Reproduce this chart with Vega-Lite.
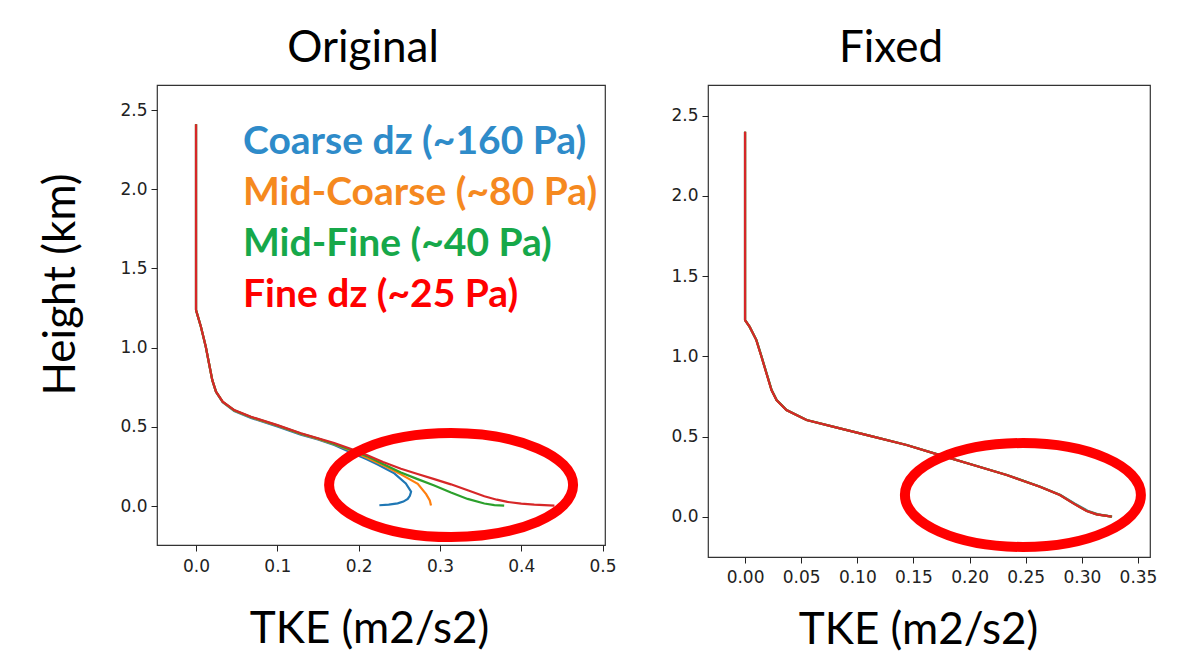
{
  "$schema": "https://vega.github.io/schema/vega-lite/v6.json",
  "background": "white",
  "padding": {"left": 38, "top": 26, "right": 5, "bottom": 5},
  "spacing": 53,
  "datasets": {
    "orig": [
      {"s":"Coarse","i":0,"x":0,"y":2.41},{"s":"Coarse","i":1,"x":0,"y":1.237},{"s":"Coarse","i":2,"x":0.006,"y":1.132},{"s":"Coarse","i":3,"x":0.012,"y":1.006},{"s":"Coarse","i":4,"x":0.016,"y":0.9},{"s":"Coarse","i":5,"x":0.02,"y":0.795},{"s":"Coarse","i":6,"x":0.0246,"y":0.72},{"s":"Coarse","i":7,"x":0.0328,"y":0.655},{"s":"Coarse","i":8,"x":0.047,"y":0.6},{"s":"Coarse","i":9,"x":0.0676,"y":0.556},{"s":"Coarse","i":10,"x":0.1,"y":0.503},{"s":"Coarse","i":11,"x":0.129,"y":0.451},{"s":"Coarse","i":12,"x":0.15,"y":0.42},{"s":"Coarse","i":13,"x":0.17,"y":0.385},{"s":"Coarse","i":14,"x":0.19,"y":0.34},{"s":"Coarse","i":15,"x":0.21,"y":0.295},{"s":"Coarse","i":16,"x":0.2234,"y":0.262},{"s":"Coarse","i":17,"x":0.2439,"y":0.206},{"s":"Coarse","i":18,"x":0.258,"y":0.143},{"s":"Coarse","i":19,"x":0.2645,"y":0.09},{"s":"Coarse","i":20,"x":0.263,"y":0.065},{"s":"Coarse","i":21,"x":0.2604,"y":0.045},{"s":"Coarse","i":22,"x":0.255,"y":0.028},{"s":"Coarse","i":23,"x":0.248,"y":0.017},{"s":"Coarse","i":24,"x":0.237,"y":0.009},{"s":"Coarse","i":25,"x":0.2255,"y":0.005},
      {"s":"MidCoarse","i":0,"x":0,"y":2.41},{"s":"MidCoarse","i":1,"x":0,"y":1.237},{"s":"MidCoarse","i":2,"x":0.006,"y":1.132},{"s":"MidCoarse","i":3,"x":0.012,"y":1.006},{"s":"MidCoarse","i":4,"x":0.016,"y":0.9},{"s":"MidCoarse","i":5,"x":0.02,"y":0.795},{"s":"MidCoarse","i":6,"x":0.0246,"y":0.721},{"s":"MidCoarse","i":7,"x":0.0328,"y":0.657},{"s":"MidCoarse","i":8,"x":0.047,"y":0.603},{"s":"MidCoarse","i":9,"x":0.0676,"y":0.56},{"s":"MidCoarse","i":10,"x":0.1,"y":0.507},{"s":"MidCoarse","i":11,"x":0.129,"y":0.455},{"s":"MidCoarse","i":12,"x":0.15,"y":0.424},{"s":"MidCoarse","i":13,"x":0.17,"y":0.39},{"s":"MidCoarse","i":14,"x":0.19,"y":0.35},{"s":"MidCoarse","i":15,"x":0.21,"y":0.305},{"s":"MidCoarse","i":16,"x":0.23,"y":0.258},{"s":"MidCoarse","i":17,"x":0.252,"y":0.2},{"s":"MidCoarse","i":18,"x":0.2727,"y":0.14},{"s":"MidCoarse","i":19,"x":0.283,"y":0.075},{"s":"MidCoarse","i":20,"x":0.2875,"y":0.035},{"s":"MidCoarse","i":21,"x":0.289,"y":0.003},
      {"s":"MidFine","i":0,"x":0,"y":2.41},{"s":"MidFine","i":1,"x":0,"y":1.237},{"s":"MidFine","i":2,"x":0.006,"y":1.132},{"s":"MidFine","i":3,"x":0.012,"y":1.006},{"s":"MidFine","i":4,"x":0.016,"y":0.9},{"s":"MidFine","i":5,"x":0.02,"y":0.795},{"s":"MidFine","i":6,"x":0.0246,"y":0.722},{"s":"MidFine","i":7,"x":0.0328,"y":0.658},{"s":"MidFine","i":8,"x":0.047,"y":0.605},{"s":"MidFine","i":9,"x":0.0676,"y":0.562},{"s":"MidFine","i":10,"x":0.1,"y":0.509},{"s":"MidFine","i":11,"x":0.129,"y":0.457},{"s":"MidFine","i":12,"x":0.15,"y":0.426},{"s":"MidFine","i":13,"x":0.17,"y":0.392},{"s":"MidFine","i":14,"x":0.19,"y":0.355},{"s":"MidFine","i":15,"x":0.21,"y":0.315},{"s":"MidFine","i":16,"x":0.23,"y":0.265},{"s":"MidFine","i":17,"x":0.252,"y":0.212},{"s":"MidFine","i":18,"x":0.2725,"y":0.17},{"s":"MidFine","i":19,"x":0.293,"y":0.13},{"s":"MidFine","i":20,"x":0.3135,"y":0.085},{"s":"MidFine","i":21,"x":0.334,"y":0.045},{"s":"MidFine","i":22,"x":0.3546,"y":0.016},{"s":"MidFine","i":23,"x":0.367,"y":0.006},{"s":"MidFine","i":24,"x":0.379,"y":0.002},
      {"s":"Fine","i":0,"x":0,"y":2.41},{"s":"Fine","i":1,"x":0,"y":1.237},{"s":"Fine","i":2,"x":0.006,"y":1.132},{"s":"Fine","i":3,"x":0.012,"y":1.006},{"s":"Fine","i":4,"x":0.016,"y":0.9},{"s":"Fine","i":5,"x":0.02,"y":0.795},{"s":"Fine","i":6,"x":0.0246,"y":0.722},{"s":"Fine","i":7,"x":0.0328,"y":0.659},{"s":"Fine","i":8,"x":0.047,"y":0.606},{"s":"Fine","i":9,"x":0.0676,"y":0.564},{"s":"Fine","i":10,"x":0.1,"y":0.511},{"s":"Fine","i":11,"x":0.129,"y":0.459},{"s":"Fine","i":12,"x":0.15,"y":0.428},{"s":"Fine","i":13,"x":0.17,"y":0.398},{"s":"Fine","i":14,"x":0.19,"y":0.362},{"s":"Fine","i":15,"x":0.21,"y":0.322},{"s":"Fine","i":16,"x":0.23,"y":0.278},{"s":"Fine","i":17,"x":0.252,"y":0.235},{"s":"Fine","i":18,"x":0.2725,"y":0.202},{"s":"Fine","i":19,"x":0.293,"y":0.17},{"s":"Fine","i":20,"x":0.3135,"y":0.137},{"s":"Fine","i":21,"x":0.335,"y":0.098},{"s":"Fine","i":22,"x":0.3546,"y":0.062},{"s":"Fine","i":23,"x":0.37,"y":0.04},{"s":"Fine","i":24,"x":0.383,"y":0.026},{"s":"Fine","i":25,"x":0.4,"y":0.015},{"s":"Fine","i":26,"x":0.416,"y":0.009},{"s":"Fine","i":27,"x":0.4408,"y":0.003}
    ],
    "fixed": [
      {"s":"Coarse","i":0,"x":0,"y":2.4},{"s":"Coarse","i":1,"x":0,"y":1.226},{"s":"Coarse","i":2,"x":0.004,"y":1.185},{"s":"Coarse","i":3,"x":0.0102,"y":1.101},{"s":"Coarse","i":4,"x":0.0148,"y":0.997},{"s":"Coarse","i":5,"x":0.0192,"y":0.894},{"s":"Coarse","i":6,"x":0.0237,"y":0.79},{"s":"Coarse","i":7,"x":0.0282,"y":0.727},{"s":"Coarse","i":8,"x":0.037,"y":0.665},{"s":"Coarse","i":9,"x":0.0549,"y":0.603},{"s":"Coarse","i":10,"x":0.0846,"y":0.551},{"s":"Coarse","i":11,"x":0.1142,"y":0.499},{"s":"Coarse","i":12,"x":0.144,"y":0.447},{"s":"Coarse","i":13,"x":0.1737,"y":0.384},{"s":"Coarse","i":14,"x":0.2034,"y":0.322},{"s":"Coarse","i":15,"x":0.2332,"y":0.26},{"s":"Coarse","i":16,"x":0.263,"y":0.187},{"s":"Coarse","i":17,"x":0.281,"y":0.135},{"s":"Coarse","i":18,"x":0.2935,"y":0.083},{"s":"Coarse","i":19,"x":0.3058,"y":0.035},{"s":"Coarse","i":20,"x":0.3145,"y":0.0145},{"s":"Coarse","i":21,"x":0.327,"y":0.0},
      {"s":"MidCoarse","i":0,"x":0,"y":2.4},{"s":"MidCoarse","i":1,"x":0,"y":1.226},{"s":"MidCoarse","i":2,"x":0.004,"y":1.185},{"s":"MidCoarse","i":3,"x":0.0101,"y":1.101},{"s":"MidCoarse","i":4,"x":0.0147,"y":0.997},{"s":"MidCoarse","i":5,"x":0.0191,"y":0.894},{"s":"MidCoarse","i":6,"x":0.0236,"y":0.79},{"s":"MidCoarse","i":7,"x":0.0281,"y":0.727},{"s":"MidCoarse","i":8,"x":0.0369,"y":0.665},{"s":"MidCoarse","i":9,"x":0.0548,"y":0.603},{"s":"MidCoarse","i":10,"x":0.0845,"y":0.551},{"s":"MidCoarse","i":11,"x":0.1141,"y":0.499},{"s":"MidCoarse","i":12,"x":0.1439,"y":0.447},{"s":"MidCoarse","i":13,"x":0.1736,"y":0.384},{"s":"MidCoarse","i":14,"x":0.2033,"y":0.322},{"s":"MidCoarse","i":15,"x":0.2331,"y":0.26},{"s":"MidCoarse","i":16,"x":0.2628,"y":0.187},{"s":"MidCoarse","i":17,"x":0.2806,"y":0.135},{"s":"MidCoarse","i":18,"x":0.2927,"y":0.083},{"s":"MidCoarse","i":19,"x":0.3048,"y":0.035},{"s":"MidCoarse","i":20,"x":0.3135,"y":0.0145},{"s":"MidCoarse","i":21,"x":0.3267,"y":0.0},
      {"s":"MidFine","i":0,"x":0,"y":2.4},{"s":"MidFine","i":1,"x":0,"y":1.226},{"s":"MidFine","i":2,"x":0.004,"y":1.185},{"s":"MidFine","i":3,"x":0.0101,"y":1.101},{"s":"MidFine","i":4,"x":0.0147,"y":0.997},{"s":"MidFine","i":5,"x":0.0191,"y":0.894},{"s":"MidFine","i":6,"x":0.0236,"y":0.79},{"s":"MidFine","i":7,"x":0.0281,"y":0.727},{"s":"MidFine","i":8,"x":0.0369,"y":0.665},{"s":"MidFine","i":9,"x":0.0548,"y":0.603},{"s":"MidFine","i":10,"x":0.0845,"y":0.551},{"s":"MidFine","i":11,"x":0.1141,"y":0.499},{"s":"MidFine","i":12,"x":0.1439,"y":0.447},{"s":"MidFine","i":13,"x":0.1736,"y":0.384},{"s":"MidFine","i":14,"x":0.2033,"y":0.322},{"s":"MidFine","i":15,"x":0.2331,"y":0.26},{"s":"MidFine","i":16,"x":0.2627,"y":0.187},{"s":"MidFine","i":17,"x":0.2805,"y":0.135},{"s":"MidFine","i":18,"x":0.2925,"y":0.083},{"s":"MidFine","i":19,"x":0.3045,"y":0.035},{"s":"MidFine","i":20,"x":0.3132,"y":0.0145},{"s":"MidFine","i":21,"x":0.3266,"y":0.0},
      {"s":"Fine","i":0,"x":0,"y":2.4},{"s":"Fine","i":1,"x":0,"y":1.226},{"s":"Fine","i":2,"x":0.004,"y":1.185},{"s":"Fine","i":3,"x":0.01,"y":1.101},{"s":"Fine","i":4,"x":0.0146,"y":0.997},{"s":"Fine","i":5,"x":0.019,"y":0.894},{"s":"Fine","i":6,"x":0.0235,"y":0.79},{"s":"Fine","i":7,"x":0.028,"y":0.727},{"s":"Fine","i":8,"x":0.0368,"y":0.665},{"s":"Fine","i":9,"x":0.0547,"y":0.603},{"s":"Fine","i":10,"x":0.0844,"y":0.551},{"s":"Fine","i":11,"x":0.114,"y":0.499},{"s":"Fine","i":12,"x":0.1438,"y":0.447},{"s":"Fine","i":13,"x":0.1735,"y":0.384},{"s":"Fine","i":14,"x":0.2032,"y":0.322},{"s":"Fine","i":15,"x":0.233,"y":0.26},{"s":"Fine","i":16,"x":0.2626,"y":0.187},{"s":"Fine","i":17,"x":0.2804,"y":0.135},{"s":"Fine","i":18,"x":0.2923,"y":0.083},{"s":"Fine","i":19,"x":0.3042,"y":0.035},{"s":"Fine","i":20,"x":0.313,"y":0.0145},{"s":"Fine","i":21,"x":0.3265,"y":0.0}
    ],
    "legendText": [
      {"s":"Coarse","label":"Coarse dz (~160 Pa)","x":0.0578,"y":2.222},
      {"s":"MidCoarse","label":"Mid-Coarse (~80 Pa)","x":0.0578,"y":1.9},
      {"s":"MidFine","label":"Mid-Fine (~40 Pa)","x":0.0578,"y":1.578},
      {"s":"Fine","label":"Fine dz (~25 Pa)","x":0.0578,"y":1.256}
    ]
  },
  "hconcat": [
    {
      "width": 448,
      "height": 460,
      "title": {"text": "Original", "offset": 14, "dx": -18},
      "encoding": {
        "x": {"field": "x", "type": "quantitative",
          "scale": {"domain": [-0.048, 0.503], "nice": false, "zero": false},
          "axis": {"values": [0, 0.1, 0.2, 0.3, 0.4, 0.5], "format": ".1f", "labelPadding": 7, "title": "TKE (m2/s2)", "titleX": 212, "titleY": 97, "titleBaseline": "alphabetic", "titleAlign": "center"}},
        "y": {"field": "y", "type": "quantitative",
          "scale": {"domain": [-0.246, 2.658], "nice": false, "zero": false},
          "axis": {"values": [0, 0.5, 1, 1.5, 2, 2.5], "format": ".1f", "title": "Height (km)", "titleX": -83, "titleY": 199, "titleBaseline": "alphabetic", "titleAlign": "center", "titleAngle": -90}}
      },
      "layer": [
        {
          "data": {"name": "orig"},
          "mark": {"type": "line", "strokeWidth": 2.2},
          "encoding": {
            "color": {"field": "s", "type": "nominal", "scale": {"domain": ["Coarse", "MidCoarse", "MidFine", "Fine"], "range": ["#1f77b4", "#ff7f0e", "#2ca02c", "#d62728"]}, "legend": null},
            "order": {"field": "i", "type": "quantitative"}
          }
        },
        {
          "data": {"name": "legendText"},
          "mark": {"type": "text", "font": "Lato", "fontWeight": "bold", "fontSize": 39, "align": "left", "baseline": "alphabetic"},
          "encoding": {
            "text": {"field": "label"},
            "color": {"field": "s", "type": "nominal", "scale": {"domain": ["Coarse", "MidCoarse", "MidFine", "Fine"], "range": ["#2e8bc9", "#f5891f", "#16a84a", "#ff0000"]}, "legend": null}
          }
        },
        {
          "data": {"values": [{"x": 0.3137, "y": 0.1326}]},
          "mark": {"type": "point", "shape": "M -1 0 A 1 0.426 0 1 1 1 0 A 1 0.426 0 1 1 -1 0 Z", "size": 59536, "filled": false, "stroke": "#ff0000", "strokeWidth": 10, "opacity": 1}
        }
      ],
      "resolve": {"scale": {"color": "independent"}}
    },
    {
      "width": 442,
      "height": 472,
      "title": {"text": "Fixed", "offset": 14, "dx": -38},
      "encoding": {
        "x": {"field": "x", "type": "quantitative",
          "scale": {"domain": [-0.033, 0.3607], "nice": false, "zero": false},
          "axis": {"values": [0, 0.05, 0.1, 0.15, 0.2, 0.25, 0.3, 0.35], "format": ".2f", "labelPadding": 6, "title": "TKE (m2/s2)", "titleX": 210, "titleY": 86, "titleBaseline": "alphabetic", "titleAlign": "center"}},
        "y": {"field": "y", "type": "quantitative",
          "scale": {"domain": [-0.2512, 2.6914], "nice": false, "zero": false},
          "axis": {"values": [0, 0.5, 1, 1.5, 2, 2.5], "format": ".1f", "title": null}}
      },
      "layer": [
        {
          "data": {"name": "fixed"},
          "mark": {"type": "line", "strokeWidth": 2.2},
          "encoding": {
            "color": {"field": "s", "type": "nominal", "scale": {"domain": ["Coarse", "MidCoarse", "MidFine", "Fine"], "range": ["#1f77b4", "#ff7f0e", "#2ca02c", "#d62728"]}, "legend": null},
            "order": {"field": "i", "type": "quantitative"}
          }
        },
        {
          "data": {"values": [{"x": 0.2475, "y": 0.1353}]},
          "mark": {"type": "point", "shape": "M -1 0 A 1 0.44 0 1 1 1 0 A 1 0.44 0 1 1 -1 0 Z", "size": 55696, "filled": false, "stroke": "#ff0000", "strokeWidth": 10, "opacity": 1}
        }
      ]
    }
  ],
  "config": {
    "view": {"stroke": "#333333", "strokeWidth": 1.2},
    "axis": {"grid": false, "domain": false, "tickColor": "#222222", "tickSize": 6, "labelFont": "DejaVu Sans", "labelFontSize": 17, "labelColor": "#222222", "labelPadding": 4, "titleFont": "Lato", "titleFontSize": 44, "titleFontWeight": "normal", "titleColor": "#000000"},
    "title": {"font": "Lato", "fontSize": 44, "fontWeight": "normal", "color": "#000000", "baseline": "alphabetic", "frame": "group", "anchor": "middle"}
  }
}
